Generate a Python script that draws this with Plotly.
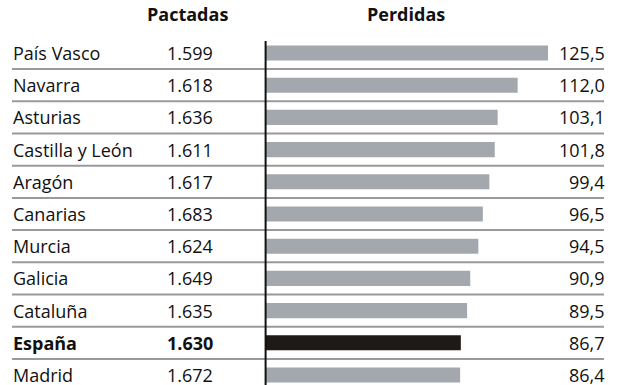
import plotly.graph_objects as go

regions = ["País Vasco", "Navarra", "Asturias", "Castilla y León", "Aragón",
           "Canarias", "Murcia", "Galicia", "Cataluña", "España", "Madrid"]
pactadas = ["1.599", "1.618", "1.636", "1.611", "1.617",
            "1.683", "1.624", "1.649", "1.635", "1.630", "1.672"]
perdidas = [125.5, 112.0, 103.1, 101.8, 99.4, 96.5, 94.5, 90.9, 89.5, 86.7, 86.4]
highlight = "España"

W, H = 620, 385
FONT = "Open Sans"
FS = 18
GREY = "#a3a7ae"
DARK = "#1d1a17"

x0_px = 266.0
px_per_unit = (548.0 - x0_px) / 125.5
row0_px, row_h = 53.0, 32.2

xr = [-x0_px / px_per_unit, (W - x0_px) / px_per_unit]
yr = [(H - row0_px) / row_h, -row0_px / row_h]

def px(x):
    return x / W

n = len(regions)
idx = list(range(n))
colors = [DARK if r == highlight else GREY for r in regions]

fig = go.Figure()
fig.add_trace(go.Bar(
    x=perdidas, y=idx, orientation="h", width=0.47,
    marker=dict(color=colors, line=dict(width=0)),
    hoverinfo="skip",
))

shapes = []
for i in range(n - 1):
    shapes.append(dict(type="line", xref="paper", yref="y",
                       x0=px(12), x1=px(604), y0=i + 0.5, y1=i + 0.5,
                       line=dict(color="#9a9a9a", width=2)))
shapes.append(dict(type="line", xref="x", yref="y",
                   x0=-0.4 / px_per_unit, x1=-0.4 / px_per_unit,
                   y0=(41 - row0_px) / row_h, y1=yr[0],
                   line=dict(color="#111111", width=2)))

ann = []
for i, (r, p, v) in enumerate(zip(regions, pactadas, perdidas)):
    bold = r == highlight
    wrap = (lambda s: f"<b>{s}</b>") if bold else (lambda s: s)
    ann.append(dict(xref="paper", yref="y", x=px(11), y=i, text=wrap(r),
                    xanchor="left", yanchor="middle", showarrow=False,
                    font=dict(family=FONT, size=FS, color="#111111")))
    ann.append(dict(xref="paper", yref="y", x=px(215), y=i, text=wrap(p),
                    xanchor="right", yanchor="middle", showarrow=False,
                    font=dict(family=FONT, size=FS, color="#111111")))
    ann.append(dict(xref="paper", yref="y", x=px(607), y=i,
                    text=f"{v:.1f}".replace(".", ","),
                    xanchor="right", yanchor="middle", showarrow=False,
                    font=dict(family=FONT, size=FS, color="#111111")))

hy = (14 - row0_px) / row_h
ann.append(dict(xref="paper", yref="y", x=px(187), y=hy, text="<b>Pactadas</b>",
                xanchor="center", yanchor="middle", showarrow=False,
                font=dict(family=FONT, size=FS, color="#111111")))
ann.append(dict(xref="paper", yref="y", x=px(406), y=hy, text="<b>Perdidas</b>",
                xanchor="center", yanchor="middle", showarrow=False,
                font=dict(family=FONT, size=FS, color="#111111")))

fig.update_layout(
    width=W, height=H, margin=dict(l=0, r=0, t=0, b=0),
    paper_bgcolor="white", plot_bgcolor="white", showlegend=False,
    xaxis=dict(range=xr, visible=False, fixedrange=True),
    yaxis=dict(range=yr, visible=False, fixedrange=True),
    shapes=shapes, annotations=ann,
)
fig.write_html(
    "out.html",
    config={"displayModeBar": False},
    post_script="document.body.style.margin='0';document.body.style.overflow='hidden';",
)
